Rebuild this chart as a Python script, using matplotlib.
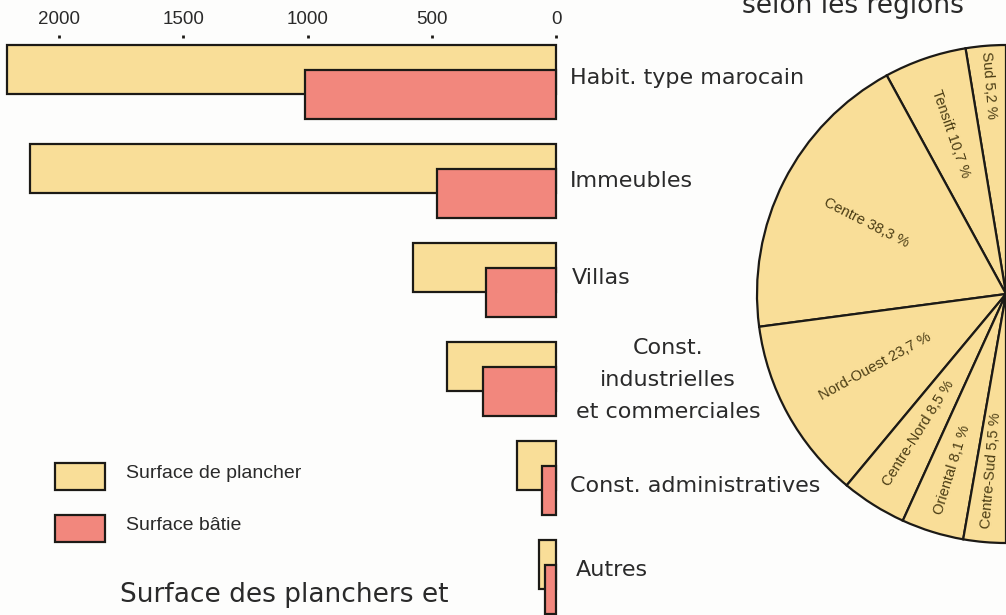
import numpy as np
import matplotlib as mpl
import matplotlib.pyplot as plt
from matplotlib.patches import Rectangle
mpl.use('Agg')

# surfaces (milliers de m2) par type de construction
categories = ["Habit. type marocain", "Immeubles", "Villas",
              "Const.\nindustrielles\net commerciales",
              "Const. administratives", "Autres"]
plancher = [2210, 2115, 575, 440, 155, 70]
batie = [1010, 480, 280, 295, 55, 45]
ticks = [0, 500, 1000, 1500, 2000]

# repartition selon les regions (%)
regions = ["Sud", "Tensift", "Centre", "Nord-Ouest", "Centre-Nord", "Oriental", "Centre-Sud"]
parts = [5.2, 10.7, 38.3, 23.7, 8.5, 8.1, 5.5]

JAUNE = "#f9de98"
ROUGE = "#f2877d"
TRAIT = "#1c1a16"
TEXTE = "#2a2a2a"

W, H = 1006, 615
fig = plt.figure(figsize=(W / 100, H / 100), dpi=100)
fig.patch.set_facecolor("#fdfdfc")


def fx(x):
    return x / W


def fy(y):
    return 1 - y / H


# ---- barres horizontales, axe inverse (0 a droite)
ax = fig.add_axes([0, 0, 556 / W, (H - 38) / H])
ax.set_xlim(556 / 0.2485, 0)
ax.set_ylim(H, 38)
y = 69.5 + 99 * np.arange(len(categories))
ax.barh(y, plancher, height=49, color=JAUNE, edgecolor=TRAIT, linewidth=1.6, clip_on=False)
ax.barh(y + 25, batie, height=49, color=ROUGE, edgecolor=TRAIT, linewidth=1.6, clip_on=False)
ax.xaxis.tick_top()
ax.set_xticks(ticks)
ax.set_xticklabels([str(t) for t in ticks], family="Liberation Sans",
                   fontsize=13.5, color=TEXTE)
ax.tick_params(axis="x", length=2.5, width=2, pad=4.5, color=TRAIT)
ax.set_yticks([])
for s in ax.spines.values():
    s.set_visible(False)
ax.patch.set_alpha(0)

# libelles des categories
lab_pos = [(570, 78), (570, 181), (572, 278), (668, 380), (570, 486), (576, 570)]
for lab, (lx, ly) in zip(categories, lab_pos):
    multi = "\n" in lab
    fig.text(fx(lx), fy(ly), lab, fontsize=16, color=TEXTE,
             ha="center" if multi else "left", va="center", linespacing=1.75)

# legende
for yy, col, txt in [(463, JAUNE, "Surface de plancher"), (515, ROUGE, "Surface bâtie")]:
    fig.patches.append(Rectangle((fx(55), fy(yy + 27)), 50 / W, 27 / H, transform=fig.transFigure,
                                 facecolor=col, edgecolor=TRAIT, linewidth=1.6))
    fig.text(fx(126), fy(yy + 11), txt, fontsize=14, color=TEXTE, va="center",
             family="Liberation Sans")

fig.text(fx(120), fy(602), "Surface des planchers et", fontsize=19, color=TEXTE, va="baseline")
fig.text(fx(742), fy(13), "selon les régions", fontsize=19, color=TEXTE, va="baseline")

# ---- demi-camembert des regions
r = 249
ax2 = fig.add_axes([fx(1006 - r), fy(294 + r), 2 * r / W, 2 * r / H])
fr = np.array(parts) / 200
ax2.pie(fr, normalize=False, startangle=90, counterclock=True, colors=[JAUNE] * len(parts),
        wedgeprops=dict(edgecolor=TRAIT, linewidth=1.6))
ax2.set_xlim(-1, 1)
ax2.set_ylim(-1, 1)

rad = [0.84, 0.68, 0.63, 0.60, 0.66, 0.74, 0.71]
cum = np.concatenate([[0], np.cumsum(parts)[:-1]])
for nom, p, c, rr in zip(regions, parts, cum, rad):
    a = 90 + (c + p / 2) * 1.8
    t = np.radians(a)
    ax2.text(rr * np.cos(t), rr * np.sin(t), f"{nom} {p:.1f} %".replace(".", ","),
             rotation=a - 180, rotation_mode="anchor", ha="center", va="center",
             fontsize=10.5, color="#4a3c14", family="Liberation Sans")

fig.savefig("out.png", dpi=100, facecolor=fig.get_facecolor())
